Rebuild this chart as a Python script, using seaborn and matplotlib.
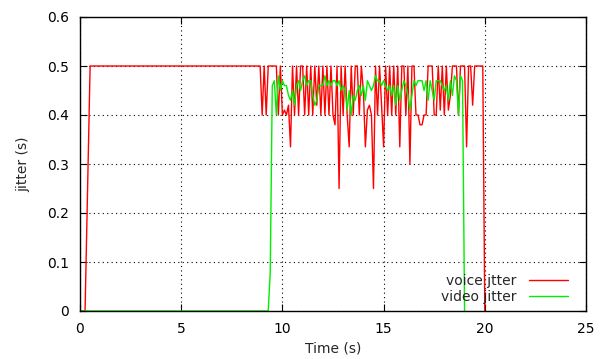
import numpy as np
import pandas as pd
import matplotlib
matplotlib.use("Agg")
import matplotlib.pyplot as plt
import seaborn as sns

# data
voice_t = [0.0, 0.25, 0.5, 8.9] + [round(9.0 + 0.1 * i, 1) for i in range(110)] + [20.0]
voice_v = [0.0, 0.0, 0.5, 0.5,
           0.40, 0.50, 0.40, 0.50, 0.50, 0.50, 0.50, 0.50, 0.40, 0.50,
           0.40, 0.41, 0.40, 0.42, 0.335, 0.50, 0.40, 0.50, 0.40, 0.50,
           0.50, 0.40, 0.50, 0.40, 0.50, 0.40, 0.50, 0.42, 0.50, 0.40,
           0.50, 0.40, 0.50, 0.40, 0.50, 0.40, 0.38, 0.50, 0.25, 0.50,
           0.40, 0.50, 0.40, 0.335, 0.50, 0.40, 0.50, 0.50, 0.40, 0.50,
           0.45, 0.335, 0.41, 0.42, 0.40, 0.25, 0.50, 0.40, 0.50, 0.42,
           0.335, 0.50, 0.40, 0.50, 0.40, 0.50, 0.40, 0.50, 0.335, 0.50,
           0.50, 0.40, 0.50, 0.30, 0.50, 0.50, 0.40, 0.40, 0.38, 0.38,
           0.40, 0.40, 0.50, 0.50, 0.50, 0.40, 0.40, 0.50, 0.41, 0.50,
           0.40, 0.50, 0.41, 0.44, 0.50, 0.50, 0.50, 0.40, 0.50, 0.50,
           0.50, 0.335, 0.50, 0.50, 0.42, 0.50, 0.50, 0.50, 0.50, 0.50,
           0.0]

video_t = [0.0, 9.3, 9.4] + [round(9.5 + 0.1 * i, 1) for i in range(95)] + [19.0]
video_v = [0.0, 0.0, 0.08,
           0.46, 0.47, 0.40, 0.48, 0.45, 0.47, 0.46, 0.46, 0.44, 0.43,
           0.45, 0.42, 0.46, 0.47, 0.45, 0.47, 0.48, 0.46, 0.47, 0.47,
           0.44, 0.42, 0.43, 0.46, 0.46, 0.46, 0.48, 0.46, 0.47, 0.46,
           0.47, 0.47, 0.46, 0.47, 0.45, 0.46, 0.45, 0.41, 0.45, 0.40,
           0.44, 0.43, 0.45, 0.46, 0.44, 0.46, 0.43, 0.47, 0.46, 0.45,
           0.46, 0.48, 0.47, 0.47, 0.46, 0.47, 0.46, 0.45, 0.46, 0.44,
           0.46, 0.42, 0.46, 0.43, 0.45, 0.47, 0.46, 0.44, 0.41, 0.44,
           0.47, 0.46, 0.47, 0.47, 0.47, 0.45, 0.47, 0.43, 0.47, 0.45,
           0.43, 0.47, 0.47, 0.47, 0.46, 0.45, 0.46, 0.43, 0.47, 0.44,
           0.48, 0.47, 0.40, 0.48, 0.47,
           0.0]

x_ticks = [0, 5, 10, 15, 20, 25]
y_ticks = [0, 0.1, 0.2, 0.3, 0.4, 0.5, 0.6]
y_tick_labels = ["0", "0.1", "0.2", "0.3", "0.4", "0.5", "0.6"]

voice = pd.DataFrame({"t": voice_t, "v": voice_v})
video = pd.DataFrame({"t": video_t, "v": video_v})

sns.set_style("ticks")
plt.rcParams["font.family"] = ["DejaVu Sans"]

fig = plt.figure(figsize=(6.07, 3.59), dpi=100)
ax = fig.add_axes([80 / 607, 1 - 311 / 359, 506 / 607, 294 / 359])

sns.lineplot(data=voice, x="t", y="v", estimator=None, sort=False, ax=ax,
             color="#ff0000", lw=1, label="voice jtter")
sns.lineplot(data=video, x="t", y="v", estimator=None, sort=False, ax=ax,
             color="#00ee00", lw=1, label="video jitter")

ax.set_xlim(0, 25)
ax.set_ylim(0, 0.6)
ax.set_xticks(x_ticks)
ax.set_xticklabels([str(v) for v in x_ticks])
ax.set_yticks(y_ticks)
ax.set_yticklabels(y_tick_labels)
ax.tick_params(direction="in", length=5, width=0.8, top=True, right=True,
               labelsize=10, pad=8, colors="black")
ax.grid(True, color="black", linestyle=(0, (1, 3)), lw=0.8)
for s in ax.spines.values():
    s.set_color("black")
    s.set_linewidth(1)
    s.set_zorder(5)

ax.set_xlabel("Time (s)", fontsize=10, labelpad=4)
ax.set_ylabel("jitter (s)", fontsize=10, labelpad=12)

ax.legend(loc="lower right", frameon=False, markerfirst=False, fontsize=10,
          handlelength=2.8, labelspacing=0.15, borderaxespad=0.0,
          handletextpad=0.9, bbox_to_anchor=(0.975, 0.005))

fig.savefig("out.png", dpi=100)
